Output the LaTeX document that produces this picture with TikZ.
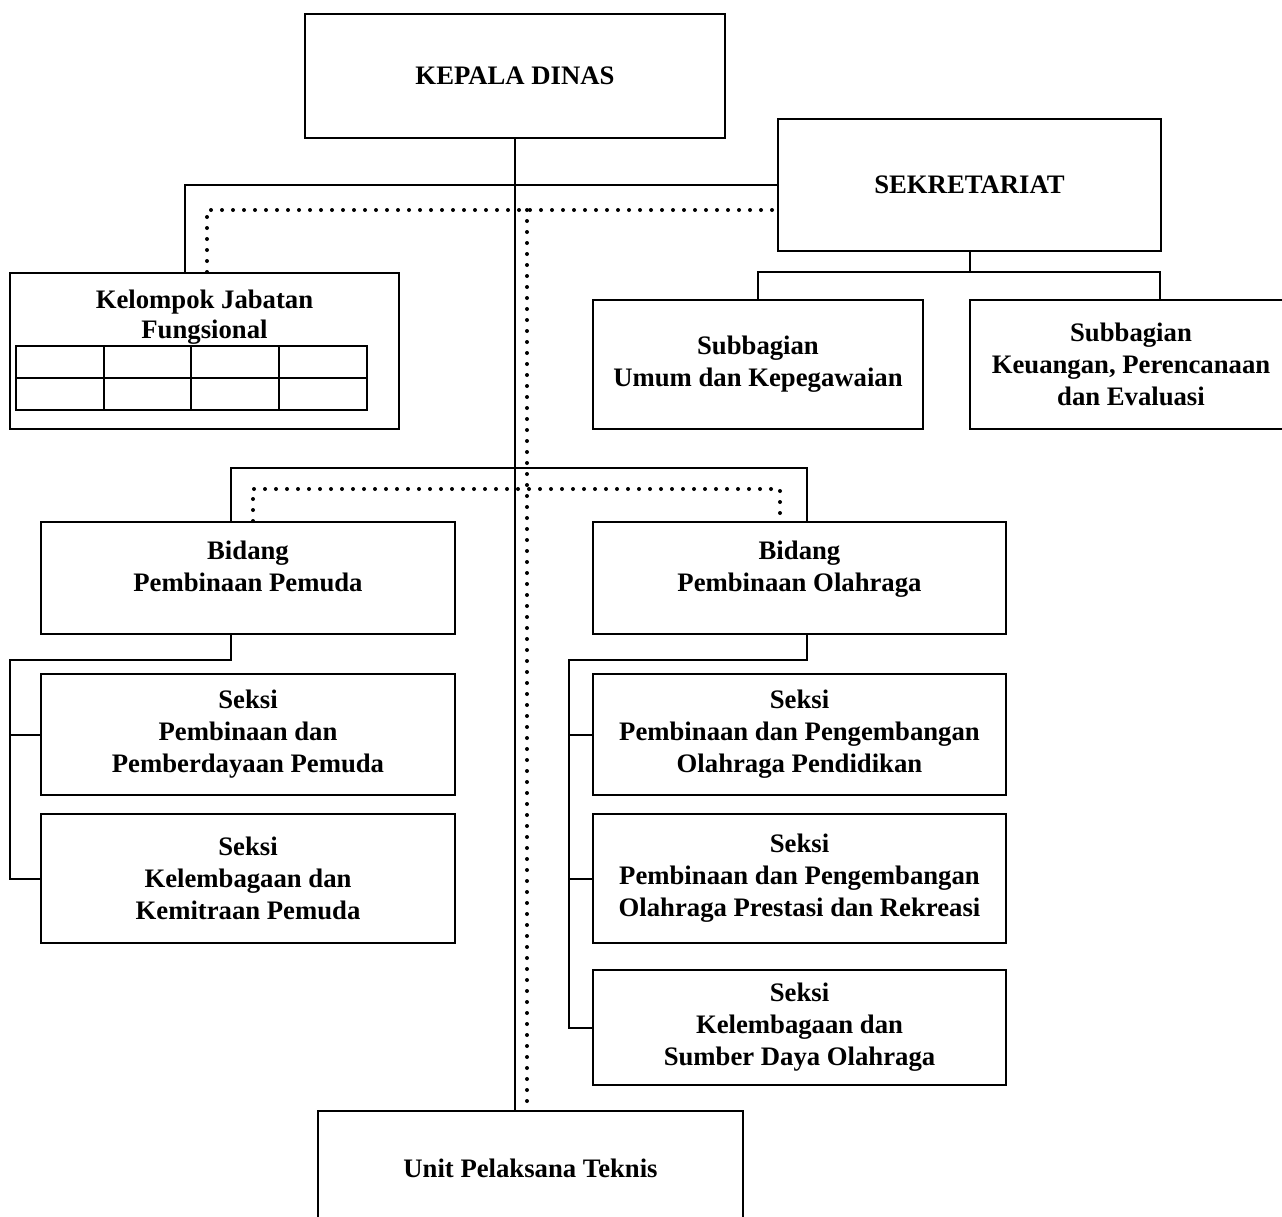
\documentclass[tikz,border=0pt]{standalone}
\usepackage{fontspec}
\setmainfont{Liberation Serif}

\begin{document}
\begin{tikzpicture}[x=0.5pt, y=-0.5pt,
  boxfont/.style={font=\bfseries\fontsize{13.35}{16}\selectfont},
  box/.style={draw, line width=1pt, align=center, inner sep=0pt, boxfont},
  boxsize/.style 2 args={minimum width=#1*0.5pt, minimum height=#2*0.5pt},
  link/.style={line width=1pt},
  dotline/.style={line width=2pt, line cap=round, dash pattern=on 0pt off 5.5pt}]
  \clip (0,0) rectangle (1282,1217);

  % boxes
  \node[box, boxsize={420}{124}] (kep) at (515,76) {KEPALA DINAS};
  \node[box, boxsize={383}{132}] (sek) at (969.5,185) {SEKRETARIAT};
  \node[box, boxsize={389}{156},
    label={[align=center, font=\bfseries\fontsize{13.35}{15}\selectfont, yshift=17pt]center:Kelompok Jabatan\\Fungsional}] (kel) at (204.5,351) {};
  \node[box, boxsize={330}{129}] (sub1) at (758,364.5) {Subbagian\\Umum dan Kepegawaian};
  \node[box, boxsize={322}{129}] (sub2) at (1131,364.5) {Subbagian\\Keuangan, Perencanaan\\dan Evaluasi};
  \node[box, boxsize={414}{112},
    label={[align=center, boxfont, yshift=6pt]center:Bidang\\Pembinaan Pemuda}] (bidp) at (248,578) {};
  \node[box, boxsize={413}{112},
    label={[align=center, boxfont, yshift=4.5pt]center:Bidang\\Pembinaan Olahraga}] (bido) at (799.5,578) {};
  \node[box, boxsize={414}{121}] (sp1) at (248,734.5) {Seksi\\Pembinaan dan\\Pemberdayaan Pemuda};
  \node[box, boxsize={414}{129}] (sp2) at (248,878.5) {Seksi\\Kelembagaan dan\\Kemitraan Pemuda};
  \node[box, boxsize={413}{121}] (so1) at (799.5,734.5) {Seksi\\Pembinaan dan Pengembangan\\Olahraga Pendidikan};
  \node[box, boxsize={413}{129}] (so2) at (799.5,878.5) {Seksi\\Pembinaan dan Pengembangan\\Olahraga Prestasi dan Rekreasi};
  \node[box, boxsize={413}{115}] (so3) at (799.5,1027.5) {Seksi\\Kelembagaan dan\\Sumber Daya Olahraga};
  \node[box, boxsize={425}{114}] (upt) at (530.5,1168) {Unit Pelaksana Teknis};

  % table in Kelompok Jabatan Fungsional
  \draw[link] (16,346) rectangle (367,410);
  \draw[link] (16,378) -- (367,378);
  \foreach \x in {104,191,279}
    \draw[link] (\x,346) -- (\x,410);

  % rails
  \coordinate (dotjoin) at (527,210);
  \coordinate (railsub) at (968,272);
  \coordinate (railbid) at (515,468);
  \coordinate (dotbid) at (527,489);
  \coordinate (trunkp) at (10,660);
  \coordinate (trunko) at (569,660);

  % solid lines
  \draw[link] (kep.south) -- (kep.south |- upt.north);
  \draw[link] ([xshift=-10pt]kel.north) |- (sek.west);
  \draw[link] (sek.south) -- (sek.south |- railsub);
  \draw[link] (sub1.north) |- (railsub) -| ([xshift=14.5pt]sub2.north);
  \draw[link] ([xshift=-8.5pt]bidp.north) |- (railbid) -| ([xshift=3.75pt]bido.north);
  \draw[link] ([xshift=-8.5pt]bidp.south) |- (trunkp) |- (sp2.west);
  \draw[link] (trunkp |- sp1.west) -- (sp1.west);
  \draw[link] ([xshift=3.75pt]bido.south) |- (trunko) |- (so3.west);
  \draw[link] (trunko |- so1.west) -- (so1.west);
  \draw[link] (trunko |- so2.west) -- (so2.west);

  % dotted lines
  \draw[dotline] ([xshift=1.25pt]kel.north) |- (sek.west |- dotjoin);
  \draw[dotline] (dotjoin) -- ([yshift=1.5pt]dotjoin |- upt.north);
  \draw[dotline] ([xshift=2.5pt]bidp.north) |- (dotbid) -| ([xshift=-9.75pt]bido.north);
\end{tikzpicture}
\end{document}
